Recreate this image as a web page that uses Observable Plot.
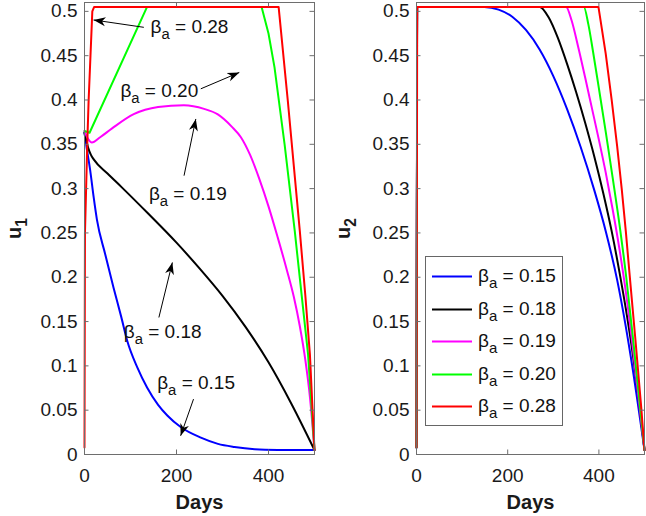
<!DOCTYPE html>
<html><head><meta charset="utf-8">
<script src="https://cdn.jsdelivr.net/npm/d3@7"></script>
<script src="https://cdn.jsdelivr.net/npm/@observablehq/plot@0.6"></script>
<style>
body{margin:0;background:#fff;font-family:"Liberation Sans",Arial,sans-serif;}
#wrap{position:relative;width:646px;height:516px;display:flex;}
#legend{position:absolute;left:425px;top:256px;width:138px;height:170px;border:1px solid #666;background:#fff;box-sizing:border-box;font-size:19px;color:#111;}
.row{position:absolute;left:0;height:24px;line-height:24px;white-space:nowrap;}
.row svg{position:absolute;left:6px;top:11px;}
.row span{position:absolute;left:52px;top:0;}
.row sub{font-size:15px;vertical-align:-6px;line-height:0;}
</style></head><body><div id="wrap"><div id="legend"></div></div>
<script>
// ---- data ----
const betaLabels = ["0.15", "0.18", "0.19", "0.20", "0.28"];
const seriesColors = ["#0000ff", "#000000", "#ff00ff", "#00ff00", "#ff0000"];
const xTicks = [0, 200, 400];
const yTicks = [0, 0.05, 0.1, 0.15, 0.2, 0.25, 0.3, 0.35, 0.4, 0.45, 0.5];

// u1 (left panel): [day, value]
const u1Beta015 = [[0,0.363],[5,0.345],[12,0.322],[20,0.29],[27,0.265],[45,0.226],[63,0.1885],[80,0.155],[93,0.128],[115,0.098],[136,0.0756],[160,0.056],[180,0.044],[209,0.031],[253,0.019],[290,0.012],[326,0.0085],[370,0.006],[420,0.0052],[500,0.005]];
const u1Beta018 = [[0,0.363],[4,0.354],[8,0.346],[14,0.338],[20,0.333],[50,0.317],[80,0.302],[140,0.271],[200,0.239],[250,0.21],[300,0.179],[350,0.144],[400,0.104],[450,0.057],[500,0.005]];
const u1Beta019 = [[0,0.365],[8,0.356],[16,0.352],[34,0.358],[60,0.368],[107,0.384],[160,0.392],[216,0.394],[260,0.39],[289,0.384],[320,0.37],[340,0.358],[360,0.338],[380,0.311],[400,0.28],[420,0.245],[440,0.208],[455,0.178],[468,0.145],[480,0.107],[490,0.065],[500,0.005]];
const u1Beta020 = [[0,0.365],[11,0.363],[136,0.505],[385,0.505],[400,0.475],[413,0.437],[435,0.35],[457,0.2525],[472,0.18],[486,0.113],[500,0.005]];
const u1Beta028 = [[0,0.008],[1,0.25],[3.5,0.3],[6,0.35],[9,0.4],[13,0.45],[17,0.5],[21,0.505],[422,0.505],[442,0.399],[468,0.2525],[480,0.18],[490,0.113],[500,0.005]];

// u2 (right panel): [day, value]
const u2Beta015 = [[0,0.008],[1.5,0.505],[149,0.505],[180,0.502],[210,0.494],[240,0.479],[270,0.457],[300,0.427],[330,0.39],[360,0.347],[390,0.298],[415,0.252],[440,0.197],[470,0.11],[500,0.005]];
const u2Beta018 = [[0,0.008],[1.5,0.505],[270,0.505],[290,0.493],[310,0.47],[330,0.441],[350,0.409],[370,0.374],[390,0.336],[410,0.294],[428,0.252],[445,0.206],[462,0.155],[480,0.092],[500,0.005]];
const u2Beta019 = [[0,0.008],[1.5,0.505],[328,0.505],[340,0.49],[355,0.459],[370,0.425],[385,0.39],[400,0.355],[415,0.318],[430,0.277],[445,0.232],[460,0.18],[475,0.118],[490,0.05],[500,0.005]];
const u2Beta020 = [[0,0.008],[1.5,0.505],[367,0.505],[377,0.485],[387,0.455],[400,0.413],[415,0.364],[430,0.313],[445,0.26],[460,0.2],[475,0.13],[490,0.055],[500,0.005]];
const u2Beta028 = [[0,0.008],[1.5,0.505],[399,0.505],[415,0.452],[428,0.4],[440,0.348],[450,0.3],[459,0.252],[467,0.205],[480,0.13],[493,0.052],[500,0.005]];

// annotations on the u1 panel
const annoLabels = ["0.28", "0.20", "0.19", "0.18", "0.15"];
const annoTextDay = [143.6, 78, 140, 85.3, 158];
const annoTextVal = [0.4822, 0.4097, 0.2939, 0.1385, 0.0813];
const arrowFromDay = [129, 252.8, 216.4, 161.7, 237];
const arrowFromVal = [0.482, 0.4126, 0.3146, 0.1546, 0.0625];
const arrowToDay = [19.7, 336.6, 242, 191, 209];
const arrowToVal = [0.4903, 0.4311, 0.3786, 0.2167, 0.0211];

// ---- drawing ----
const FONT = "'Liberation Sans', Arial, sans-serif";
function arrowHead(color) {
  const ns = "http://www.w3.org/2000/svg";
  const m = document.createElementNS(ns, "marker");
  m.setAttribute("viewBox", "-12 -5 12 10");
  m.setAttribute("markerWidth", "12");
  m.setAttribute("markerHeight", "10");
  m.setAttribute("markerUnits", "userSpaceOnUse");
  m.setAttribute("orient", "auto");
  m.setAttribute("refX", "0");
  m.setAttribute("refY", "0");
  const p = document.createElementNS(ns, "path");
  p.setAttribute("d", "M0,0L-12,-4.5L-8.5,0L-12,4.5Z");
  p.setAttribute("fill", color);
  p.setAttribute("stroke", "none");
  m.appendChild(p);
  return m;
}

function subscriptify(svg) {
  d3.select(svg).selectAll("text").each(function () {
    const t = this.textContent;
    const m = t.match(/^(.*?)_(.)(.*)$/);
    if (!m) return;
    const sel = d3.select(this);
    sel.text(null);
    sel.append("tspan").text(m[1]);
    sel.append("tspan").attr("dy", 6).attr("font-size", "0.78em").text(m[2]);
    if (m[3]) sel.append("tspan").attr("dy", -6).text(m[3]);
  });
}

function panel(series, curves, ylab, width, ml, mr, labelDx, extra) {
  const H = 516, mt = 2, mb = 62;
  const pw = width - ml - mr, ph = H - mt - mb;
  const marks = [];
  series.forEach((s, i) => marks.push(Plot.line(s, {
    x: d => d[0], y: d => d[1], stroke: seriesColors[i], strokeWidth: 2, curve: curves[i]
  })));
  marks.push(...extra);
  marks.push(
    Plot.frame({stroke: "#6e6e6e", strokeWidth: 1}),
    Plot.tickY(yTicks, {y: d => d, insetRight: pw - 4.5, stroke: "#6e6e6e"}),
    Plot.tickY(yTicks, {y: d => d, insetLeft: pw - 4.5, stroke: "#6e6e6e"}),
    Plot.tickX(xTicks, {x: d => d, insetTop: ph - 4.5, stroke: "#6e6e6e"}),
    Plot.tickX(xTicks, {x: d => d, insetBottom: ph - 4.5, stroke: "#6e6e6e"}),
    Plot.axisY({ticks: yTicks, tickSize: 0, tickPadding: 7, tickFormat: d => String(d), label: null, fill: "#1a1a1a", fontSize: 19}),
    Plot.axisX({ticks: xTicks, tickSize: 0, tickPadding: 14, tickFormat: d => String(d), label: null, fill: "#1a1a1a", fontSize: 19}),
    Plot.text(["Days"], {text: d => d, frameAnchor: "bottom", lineAnchor: "middle", textAnchor: "middle", dy: 48, fontWeight: "bold", fontSize: 20, fill: "#1a1a1a"}),
    Plot.text([ylab], {text: d => d, frameAnchor: "left", lineAnchor: "middle", textAnchor: "middle", dx: labelDx, rotate: -90, fontWeight: "bold", fontSize: 20, fill: "#1a1a1a"})
  );
  const svg = Plot.plot({
    width, height: H,
    marginLeft: ml, marginRight: mr, marginTop: mt, marginBottom: mb,
    x: {domain: [0, 500]},
    y: {domain: [0, 0.51]},
    style: {fontFamily: FONT, fontSize: "19px", background: "white", overflow: "visible"},
    marks
  });
  subscriptify(svg);
  return svg;
}

const annoData = annoLabels.map((l, i) => ({
  label: "β_a = " + l,
  tx: annoTextDay[i], ty: annoTextVal[i],
  x1: arrowFromDay[i], y1: arrowFromVal[i], x2: arrowToDay[i], y2: arrowToVal[i]
}));

const annoMarks = [
  Plot.link(annoData, {x1: "x1", y1: "y1", x2: "x2", y2: "y2", stroke: "black", strokeWidth: 1, markerEnd: arrowHead}),
  Plot.text(annoData, {x: "tx", y: "ty", text: "label", textAnchor: "start", fontSize: 19, fill: "#111"})
];

const lin = "linear", mono = "monotone-x";
const left = panel([u1Beta015, u1Beta018, u1Beta019, u1Beta020, u1Beta028],
  [mono, mono, mono, lin, lin], "u_1", 330, 84, 16, -70, annoMarks);
const right = panel([u2Beta015, u2Beta018, u2Beta019, u2Beta020, u2Beta028],
  [mono, mono, mono, mono, lin], "u_2", 316, 86, 2, -72.5, []);

const wrap = document.getElementById("wrap");
wrap.insertBefore(left, wrap.firstChild);
wrap.insertBefore(right, document.getElementById("legend"));

// legend
const legend = document.getElementById("legend");
const rowCenters = [19, 51.6, 84.2, 116.8, 149.4];
betaLabels.forEach((l, i) => {
  const row = document.createElement("div");
  row.className = "row";
  row.style.top = (rowCenters[i] - 12) + "px";
  row.innerHTML = `<svg width="40" height="3"><line x1="0" x2="40" y1="1.5" y2="1.5" stroke="${seriesColors[i]}" stroke-width="2"/></svg><span>β<sub>a</sub> = ${l}</span>`;
  legend.appendChild(row);
});
</script>
</body></html>
